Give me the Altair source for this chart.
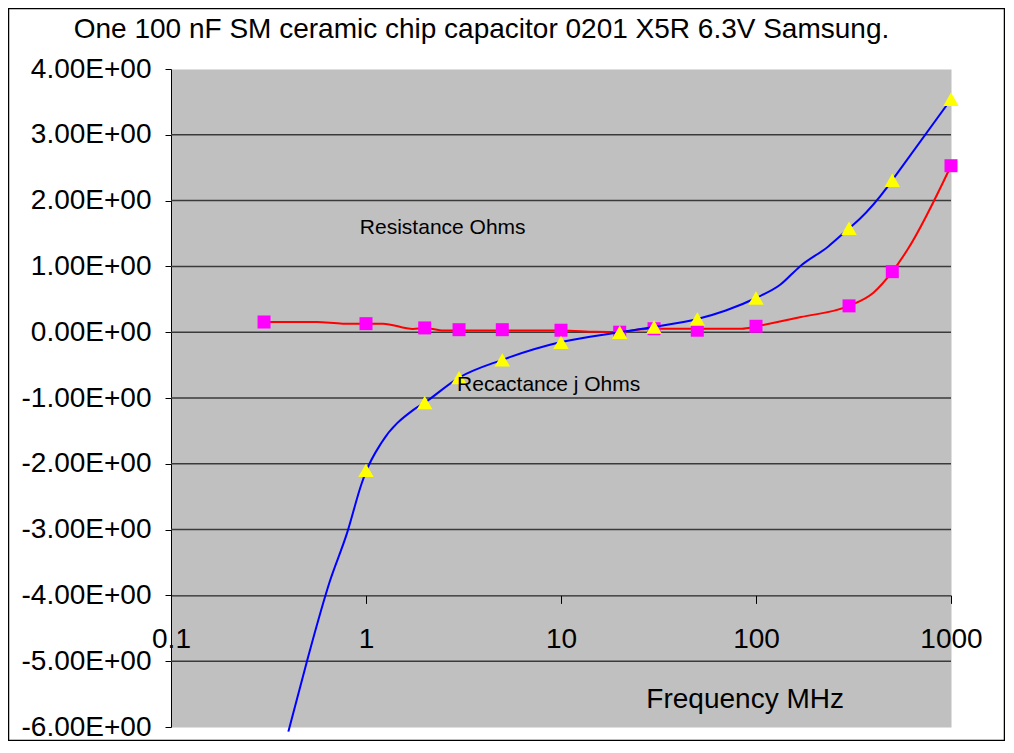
import altair as alt
import pandas as pd

title_text = "One 100 nF SM ceramic chip capacitor 0201 X5R 6.3V Samsung."

# Resistance (Ohms): marker points
res_freq = [0.3, 1, 2, 3, 5, 10, 20, 30, 50, 100, 300, 500, 1000]
res_val = [0.155, 0.13, 0.065, 0.038, 0.038, 0.03, 0.0, 0.053, 0.03, 0.09, 0.4, 0.92, 2.53]

# Resistance: line points
res_line_freq = [0.3, 0.56, 0.76, 1, 1.22, 1.74, 2, 2.5, 3, 5, 10, 15, 20, 25, 30, 50, 85, 100,
                 170, 300, 400, 500, 600, 1000]
res_line_val = [0.155, 0.155, 0.13, 0.13, 0.13, 0.05, 0.064, 0.025, 0.025, 0.025, 0.025, 0.005,
                0.0, 0.04, 0.053, 0.053, 0.053, 0.09, 0.23, 0.4, 0.6, 0.92, 1.26, 2.53]

# Reactance (j Ohms): marker points
xr_freq = [1, 2, 3, 5, 10, 20, 30, 50, 100, 300, 500, 1000]
xr_val = [-2.1, -1.07, -0.69, -0.42, -0.155, 0.0, 0.08, 0.2, 0.52, 1.58, 2.31, 3.54]

# Reactance: line points
xr_line_freq = [0.4, 0.5, 0.65, 0.8, 0.95, 1, 1.2, 1.75, 2, 3, 5, 10, 20, 30, 50, 70, 100,
                133, 168, 234, 300, 340, 470, 500, 1000]
xr_line_val = [-6.07, -4.98, -3.8, -3.05, -2.3, -2.12, -1.68, -1.18, -1.07, -0.69, -0.42, -0.15,
               0.0, 0.08, 0.2, 0.33, 0.52, 0.72, 1.0, 1.3, 1.58, 1.72, 2.2, 2.31, 3.54]

# Axis ticks / gridlines
x_ticks = [0.1, 1, 10, 100, 1000]
y_ticks = [-6, -5, -4, -3, -2, -1, 0, 1, 2, 3, 4]
grid_vals = [-5, -3, -2, -1, 0, 1, 2, 3]

# Annotations
ann_text = ["Resistance Ohms", "Recactance j Ohms"]
ann_freq = [0.93, 2.93]
ann_val = [1.59, -0.8]
xtitle_text = ["Frequency MHz"]
xtitle_freq = [88]
xtitle_val = [-5.59]

FONT = "Liberation Sans"

res_pts = pd.DataFrame({"freq": res_freq, "val": res_val})
res_line = pd.DataFrame({"freq": res_line_freq, "val": res_line_val})
xr_pts = pd.DataFrame({"freq": xr_freq, "val": xr_val})
xr_line = pd.DataFrame({"freq": xr_line_freq, "val": xr_line_val})
grid_df = pd.DataFrame({"val": grid_vals})
ann_df = pd.DataFrame({"freq": ann_freq, "val": ann_val, "label": ann_text})
xt_df = pd.DataFrame({"freq": xtitle_freq, "val": xtitle_val, "label": xtitle_text})
title_df = pd.DataFrame({"label": [title_text]})

xscale = alt.Scale(type="log", domain=[0.1, 1000])
yscale = alt.Scale(domain=[-6, 4], nice=False, zero=False)

xaxis = alt.Axis(values=x_ticks, format="~g", offset=-131.6, grid=False,
                 domainColor="#000000", domainWidth=1, tickColor="#000000", tickSize=8,
                 labelFontSize=28, labelFont=FONT, labelColor="#000000", labelPadding=22,
                 labelFlush=False, labelOverlap=False)
yaxis = alt.Axis(values=y_ticks, grid=False,
                 labelExpr="(datum.value < 0 ? '-' : '') + format(abs(datum.value), '.2f') + 'E+00'",
                 domainColor="#000000", domainWidth=1, tickColor="#000000", tickSize=6,
                 labelFontSize=28, labelFont=FONT, labelColor="#000000", labelPadding=14)

X = alt.X("freq:Q", scale=xscale, axis=xaxis, title="")
Y = alt.Y("val:Q", scale=yscale, axis=yaxis, title="")

grid = alt.Chart(grid_df).mark_rule(color="#3a3a3a", strokeWidth=1.5).encode(
    y=alt.Y("val:Q", scale=yscale, axis=yaxis, title=""))

red_line = alt.Chart(res_line).mark_line(color="#FF0000", strokeWidth=2, interpolate="monotone").encode(x=X, y=Y)
red_pts = alt.Chart(res_pts).mark_point(shape="square", filled=True, color="#FF00FF", size=169, opacity=1).encode(x=X, y=Y)
blue_line = alt.Chart(xr_line).mark_line(color="#0000FF", strokeWidth=2, interpolate="monotone").encode(x=X, y=Y)
blue_pts = alt.Chart(xr_pts).mark_point(shape="triangle-up", filled=True, color="#FFFF00", size=240, opacity=1).encode(x=X, y=Y)

ann = alt.Chart(ann_df).mark_text(font=FONT, fontSize=21, align="left", baseline="middle", color="#000000").encode(
    x=X, y=Y, text="label:N")
xt = alt.Chart(xt_df).mark_text(font=FONT, fontSize=28, align="center", baseline="middle", color="#000000").encode(
    x=X, y=Y, text="label:N")

title = alt.Chart(title_df).mark_text(font=FONT, fontSize=28, align="center", baseline="middle", color="#000000").encode(
    x=alt.value(310.5), y=alt.value(-39), text="label:N")

border = alt.Chart(pd.DataFrame({"a": [0]})).mark_rect(fillOpacity=0, stroke="#000000", strokeWidth=1.5).encode(
    x=alt.value(-162.5), x2=alt.value(833.5), y=alt.value(-60.5), y2=alt.value(671.5))

chart = alt.layer(grid, red_line, red_pts, blue_line, blue_pts, ann, xt, title, border).properties(
    width=780, height=658,
    background="#FFFFFF",
    autosize=alt.AutoSizeParams(type="none"),
    padding={"left": 163, "top": 61, "right": 54, "bottom": 14},
).configure_view(fill="#C0C0C0", stroke="transparent")

chart.save("out.html", embed_options={"renderer": "svg", "actions": False})
